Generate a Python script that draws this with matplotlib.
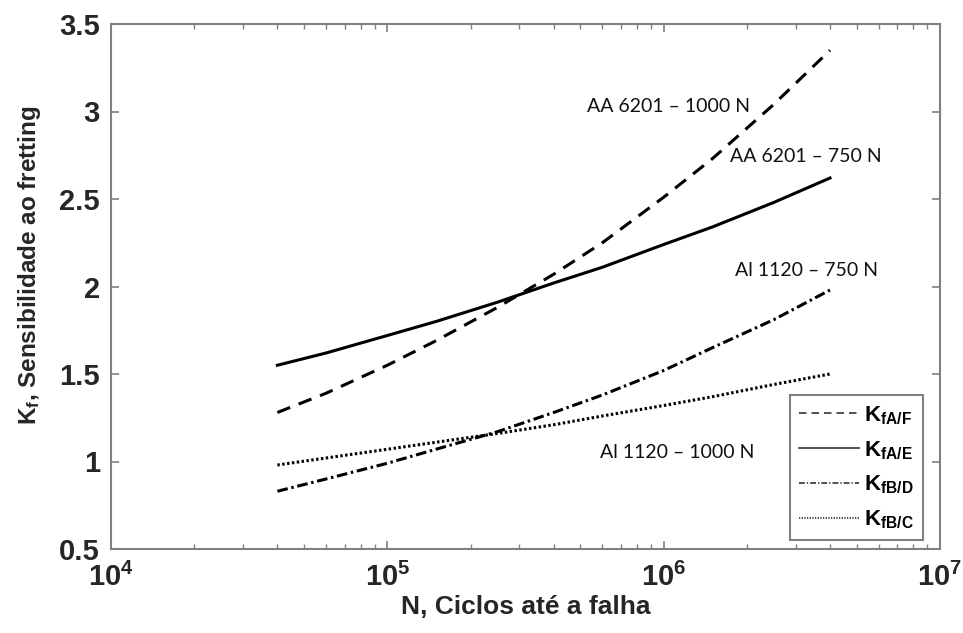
import numpy as np
import matplotlib.pyplot as plt
from matplotlib.ticker import LogLocator, NullFormatter

plt.rcParams['font.family'] = ['Liberation Sans', 'DejaVu Sans']
plt.rcParams['mathtext.fontset'] = 'custom'
plt.rcParams['mathtext.rm'] = 'Liberation Sans:bold'
plt.rcParams['mathtext.bf'] = 'Liberation Sans:bold'
plt.rcParams['mathtext.it'] = 'Liberation Sans:bold'

# ciclos ate a falha
N = [4e4, 6e4, 1e5, 1.5e5, 2.5e5, 4e5, 6e5, 1e6, 1.5e6, 2.5e6, 4e6]

# sensibilidade ao fretting
kf_AF = [1.28, 1.39, 1.55, 1.69, 1.88, 2.07, 2.25, 2.51, 2.73, 3.04, 3.35]
kf_AE = [1.55, 1.62, 1.72, 1.80, 1.91, 2.02, 2.11, 2.24, 2.34, 2.48, 2.62]
kf_BD = [0.83, 0.90, 0.99, 1.07, 1.17, 1.28, 1.38, 1.52, 1.65, 1.81, 1.98]
kf_BC = [0.98, 1.02, 1.07, 1.11, 1.16, 1.21, 1.26, 1.32, 1.37, 1.44, 1.50]

labels = [r'$\mathrm{K}_{\mathrm{fA/F}}$', r'$\mathrm{K}_{\mathrm{fA/E}}$',
          r'$\mathrm{K}_{\mathrm{fB/D}}$', r'$\mathrm{K}_{\mathrm{fB/C}}$']

notes = ['AA 6201 – 1000 N', 'AA 6201 – 750 N', 'Al 1120 – 750 N', 'Al 1120 – 1000 N']
note_x = [5.3e5, 1.74e6, 1.81e6, 5.9e5]
note_y = [3.03, 2.74, 2.09, 1.05]

fig = plt.figure(figsize=(9.63, 6.33), dpi=100)
ax = fig.add_axes([111/963, 1 - 549/633, (940-111)/963, (549-24)/633])

ax.plot(N, kf_AF, color='k', lw=2.2, ls=(0, (4.5, 3.0)), label=labels[0])
ax.plot(N, kf_AE, color='k', lw=2.2, ls='-', label=labels[1])
ax.plot(N, kf_BD, color='k', lw=2.2, ls=(0, (3.5, 1.2, 0.8, 1.2)), label=labels[2])
ax.plot(N, kf_BC, color='k', lw=2.2, ls=(0, (0.8, 0.8)), label=labels[3])

for t, x, y in zip(notes, note_x, note_y):
    ax.text(x, y, t, fontsize=14, family=['Lato', 'DejaVu Sans'], va='center', ha='left', color='#111111')

ax.set_xscale('log')
ax.set_xlim(1e4, 1e7)
ax.set_ylim(0.5, 3.5)
ax.set_yticks([0.5, 1, 1.5, 2, 2.5, 3, 3.5])
ax.set_yticklabels(['0.5', '1', '1.5', '2', '2.5', '3', '3.5'])
ax.xaxis.set_minor_locator(LogLocator(base=10, subs=np.arange(2, 10)))
ax.xaxis.set_minor_formatter(NullFormatter())

for s in ax.spines.values():
    s.set_color('#808080')
    s.set_linewidth(1.5)
ax.tick_params(which='both', direction='in', top=True, right=True, color='#808080',
               labelsize=21, labelcolor='#262626')
ax.tick_params(which='major', length=6, width=1.2, pad=8)
ax.tick_params(axis='x', which='major', pad=10)
ax.tick_params(which='minor', length=3.5, width=1.0)
for lab in ax.get_xticklabels() + ax.get_yticklabels():
    lab.set_fontweight('bold')

ax.set_xlabel('N, Ciclos até a falha', fontsize=19, fontweight='bold', color='#262626', labelpad=2)
ax.set_ylabel(r'K$_\mathrm{f}$, Sensibilidade ao fretting', fontsize=17.5, fontweight='bold',
              color='#262626')
ax.yaxis.set_label_coords(-0.082, 0.54)

leg = ax.legend(loc='lower right', fontsize=16, handlelength=2.7, fancybox=False,
                framealpha=1, edgecolor='#808080', borderpad=0.4, labelspacing=0.55,
                handletextpad=0.25, borderaxespad=0, bbox_to_anchor=(0.9795, 0.017))
leg.get_frame().set_linewidth(1.5)
for h in leg.get_lines():
    h.set_linewidth(1.2)
    h.set_color('#333333')

fig.savefig('out.png', dpi=100)
